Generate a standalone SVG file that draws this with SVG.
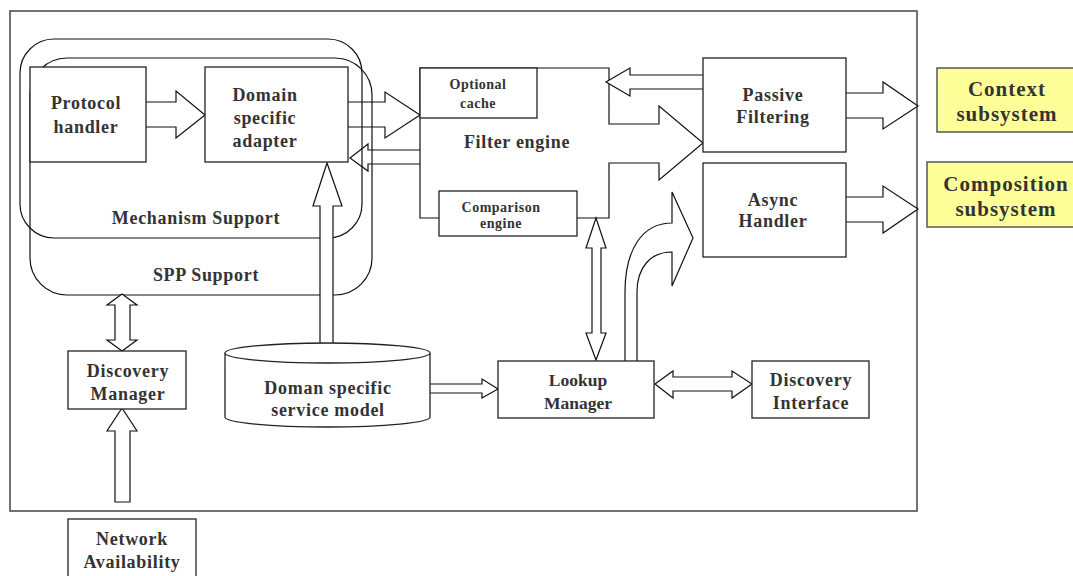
<svg xmlns="http://www.w3.org/2000/svg" width="1073" height="576" viewBox="0 0 1073 576">
<style>
.box{fill:#fff;stroke:#222;stroke-width:1.3}
.arr{fill:#fff;stroke:#111;stroke-width:1.2;stroke-linejoin:miter}
.open{fill:none}
.rr{fill:none;stroke:#111;stroke-width:1.2}
.frame{fill:none;stroke:#444;stroke-width:1.5}
.sub{fill:#FFFF99;stroke:#555;stroke-width:1.5}
text{font-family:"Liberation Serif","Times New Roman",serif;font-weight:bold;fill:#333;text-anchor:middle;font-size:18px;letter-spacing:0.7px}
.t17{font-size:17.5px;letter-spacing:0}
.t14{font-size:14px;letter-spacing:0.5px}
.t21{font-size:21px;letter-spacing:1px}
</style>
<rect width="1073" height="576" fill="#fff"/>
<rect id="frame" class="frame" x="10" y="11" width="907" height="500"/>

<g id="mechanism-support">
  <rect class="rr" x="20" y="39" width="342" height="199" rx="34" ry="34"/>
  <text x="196" y="224">Mechanism Support</text>
</g>
<g id="spp-support">
  <rect class="rr" x="30" y="58" width="342" height="237" rx="37" ry="37"/>
  <text x="206" y="281">SPP Support</text>
</g>

<g id="filter-engine">
  <path class="arr" d="M439,218 H420 V68 H609 V124 H659 V106 L703,143 L659,180 V163 H609 V218 H577"/>
  <text x="517" y="148">Filter engine</text>
</g>

<g id="connectors">
  <path class="arr" d="M146,102 H176 V91 L205,115 L176,138 V127 H146"/>
  <path class="arr open" d="M348,102 H385 V92 L420,115 L385,138 V127 H348"/>
  <path class="arr open" d="M420,150 H368 V144 L350,158 L368,171 V164 H420"/>
  <path class="arr" d="M320,343 V206 H313 L327,163 L342,206 H333 V343"/>
  <path class="arr" d="M703,75 H630 V68 L606,82 L630,96 V89 H703"/>
  <path class="arr" d="M846,93 H883 V82 L918,106 L883,129 V118 H846"/>
  <path class="arr" d="M846,197 H883 V186 L918,209 L883,233 V222 H846"/>
  <path class="arr" d="M596,218 L606,248 H601 V333 H606 L596,360 L586,333 H592 V248 H586 Z"/>
  <path class="arr" d="M625,361 V292 C625,250 642,223 672,223 V192 L693,238 L672,286 V252 C650,252 637,268 637,292 V361"/>
  <path class="arr" d="M430,384 H482 V379 L498,389 L482,398 V393 H430"/>
  <path class="arr" d="M655,384 L673,371 V377 H732 V371 L752,384 L732,398 V391 H673 V398 Z"/>
  <path class="arr" d="M122,294 L137,305 H130 V340 H137 L122,351 L107,340 H115 V305 H107 Z"/>
  <path class="arr" d="M115,502 V431 H107 L122,408 L137,431 H130 V502 Z"/>
</g>

<g id="protocol-handler">
  <rect class="box" x="30" y="67" width="116" height="95"/>
  <text x="86" y="109">Protocol</text>
  <text x="86" y="133">handler</text>
</g>
<g id="domain-adapter">
  <rect class="box" x="205" y="67" width="143" height="95"/>
  <text x="265" y="101">Domain</text>
  <text x="265" y="124">specific</text>
  <text x="265" y="147">adapter</text>
</g>

<g id="optional-cache">
  <rect class="box" x="420" y="68" width="117" height="50"/>
  <text class="t14" x="478" y="89">Optional</text>
  <text class="t14" x="478" y="108">cache</text>
</g>
<g id="comparison-engine">
  <rect class="box" x="439" y="191" width="138" height="45"/>
  <text class="t14" x="501" y="212">Comparison</text>
  <text class="t14" x="501" y="228">engine</text>
</g>

<g id="passive-filtering">
  <rect class="box" x="703" y="58" width="143" height="94"/>
  <text x="773" y="101">Passive</text>
  <text x="773" y="123">Filtering</text>
</g>
<g id="async-handler">
  <rect class="box" x="703" y="163" width="143" height="94"/>
  <text x="773" y="206">Async</text>
  <text x="773" y="227">Handler</text>
</g>

<g id="context-subsystem">
  <rect class="sub" x="937" y="68" width="140" height="64"/>
  <text class="t21" x="1007" y="96">Context</text>
  <text class="t21" x="1007" y="121">subsystem</text>
</g>
<g id="composition-subsystem">
  <rect class="sub" x="927" y="162" width="150" height="65"/>
  <text class="t21" x="1006" y="191">Composition</text>
  <text class="t21" x="1006" y="216">subsystem</text>
</g>

<g id="service-model">
  <path class="box" d="M225,353 V417 A102.5,10 0 0 0 430,417 V353 A102.5,10 0 0 0 225,353 A102.5,10 0 0 0 430,353"/>
  <text x="328" y="394">Doman specific</text>
  <text x="328" y="416">service model</text>
</g>

<g id="lookup-manager">
  <rect class="box" x="498" y="361" width="156" height="57"/>
  <text class="t17" x="578" y="386">Lookup</text>
  <text class="t17" x="578" y="409">Manager</text>
</g>
<g id="discovery-interface">
  <rect class="box" x="752" y="361" width="117" height="57"/>
  <text x="811" y="386">Discovery</text>
  <text x="811" y="409">Interface</text>
</g>
<g id="discovery-manager">
  <rect class="box" x="68" y="351" width="118" height="58"/>
  <text x="128" y="377">Discovery</text>
  <text x="128" y="400">Manager</text>
</g>
<g id="network-availability">
  <rect class="box" x="68" y="519" width="128" height="62"/>
  <text x="132" y="545">Network</text>
  <text x="132" y="568">Availability</text>
</g>
</svg>
